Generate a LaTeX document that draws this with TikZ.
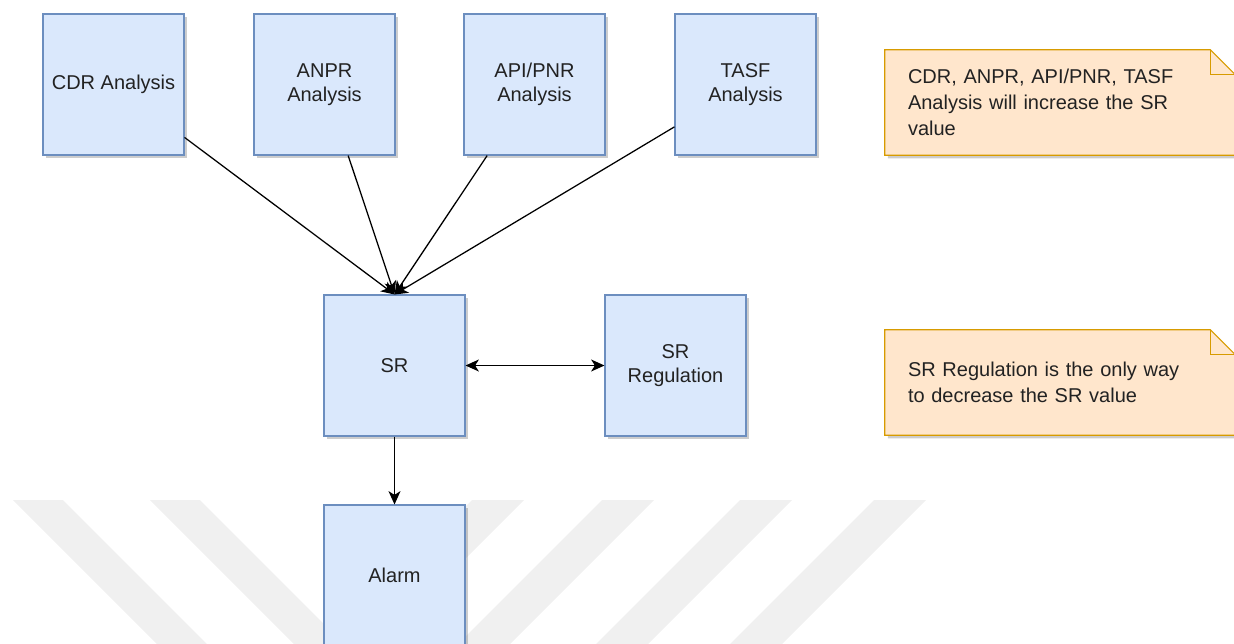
\documentclass[tikz,border=0pt]{standalone}
\usepackage{fontspec}
\setmainfont{Liberation Sans}
\usetikzlibrary{arrows.meta,shadows,backgrounds}

\definecolor{boxfill}{HTML}{DAE8FC}
\definecolor{boxline}{HTML}{6C8EBF}
\definecolor{notefill}{HTML}{FFE6CC}
\definecolor{noteline}{HTML}{D79B00}
\definecolor{stripe}{HTML}{F0F0F0}
\definecolor{txt}{HTML}{222222}

\tikzset{
  softshadow/.style={drop shadow={shadow xshift=2.4pt, shadow yshift=-2.4pt, opacity=0.28, fill=black!70}},
  block/.style={rectangle, draw=boxline, fill=boxfill, line width=0.8pt,
    minimum width=105.75pt, minimum height=105.75pt, inner sep=0pt,
    align=center, text=txt, font=\fontsize{15}{18}\selectfont, softshadow},
  notetext/.style={rectangle, minimum width=262.5pt, minimum height=78.75pt,
    text width=228pt, align=left, inner sep=0pt, text=txt,
    font=\fontsize{15}{19.5}\selectfont},
  noteshape/.style={fill=notefill, draw=noteline, line width=0.8pt, softshadow},
  notefold/.style={draw=noteline, line width=0.8pt},
  tipshape/.tip={Stealth[length=10pt,width=9pt,inset=2.8pt]},
  flow/.style={draw=black, line width=0.95pt, -{tipshape}},
  twoway/.style={draw=black, line width=0.95pt, {tipshape}-{tipshape}},
  wmark/.style={fill=stripe, draw=none},
}

\begin{document}
\begin{tikzpicture}[x=0.75pt, y=-0.75pt]
\useasboundingbox (0,0) rectangle (1234,643);
\clip (0,0) rectangle (1234,643);

% faint chevron stripes in the lower part of the page
\foreach \a in {13,150}
  \path[wmark] (\a,500) -- (\a+50,500) -- (\a+200,650) -- (\a+150,650) -- cycle;
\foreach \a in {472,602,740,874}
  \path[wmark] (\a,500) -- (\a+52,500) -- (\a-98,650) -- (\a-150,650) -- cycle;

% analysis sources
\node[block] (cdr)  at (113.5,84.5) {CDR Analysis};
\node[block] (anpr) at (324.5,84.5) {ANPR\\Analysis};
\node[block] (api)  at (534.5,84.5) {API/PNR\\Analysis};
\node[block] (tasf) at (745.5,84.5) {TASF\\Analysis};

% score, its regulation and the alarm
\node[block] (sr)    at (394.5,365.5) {SR};
\node[block] (srreg) at (675.5,365.5) {SR\\Regulation};
\node[block] (alarm) at (394.5,575.5) {Alarm};

% notes
\node[notetext] (n1) at (1060,102.5) {CDR, ANPR, API/PNR, TASF\\Analysis will increase the SR\\value};
\node[notetext] (n2) at (1060,382.5) {SR Regulation is the only way\\to decrease the SR value};

\begin{pgfonlayer}{background}
  \foreach \n in {n1,n2} {
    \path[noteshape] (\n.north west) -- ([xshift=-18.75pt]\n.north east)
      -- ([yshift=-18.75pt]\n.north east) -- (\n.south east) -- (\n.south west) -- cycle;
    \draw[notefold] ([xshift=-18.75pt]\n.north east) |- ([yshift=-18.75pt]\n.north east);
  }
\end{pgfonlayer}

% connectors
\foreach \s in {cdr,anpr,api,tasf}
  \draw[flow] (\s) -- (sr.north);
\draw[twoway] (sr.east) -- (srreg.west);
\draw[flow] (sr.south) -- (alarm.north);
\end{tikzpicture}
\end{document}
